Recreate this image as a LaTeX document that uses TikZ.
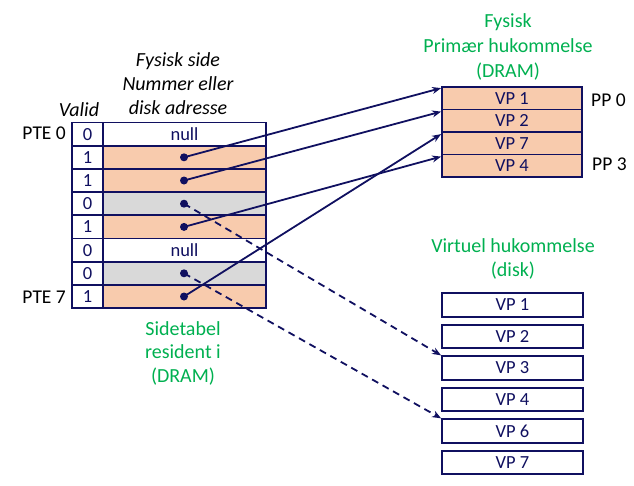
\documentclass[tikz,border=0pt]{standalone}
\usepackage{fontspec}
\setmainfont{Carlito}
\usetikzlibrary{arrows.meta}
\definecolor{navy}{RGB}{16,16,96}
\definecolor{pfill}{RGB}{248,203,173}
\definecolor{gfill}{RGB}{217,217,217}
\definecolor{lgreen}{RGB}{0,176,80}
\begin{document}
\begin{tikzpicture}[x=1pt,y=-1pt,
  cell/.style={draw=navy,line width=1.8pt,inner sep=0pt,text=navy,font=\fontsize{18.5}{19}\selectfont},
  vcell/.style={cell,minimum width=31pt,minimum height=23.2pt},
  acell/.style={cell,minimum width=163pt,minimum height=23.2pt},
  pmcell/.style={cell,minimum width=140pt,minimum height=22.5pt,fill=pfill},
  dcell/.style={cell,minimum width=141pt,minimum height=23.5pt,fill=white},
  lab/.style={inner sep=0pt,font=\fontsize{19.5}{22}\selectfont},
  hdr/.style={inner sep=0pt,font=\fontsize{20}{24}\selectfont\itshape,align=center},
  grn/.style={inner sep=0pt,text=lgreen,font=\fontsize{20}{24}\selectfont,align=center},
  dotn/.style={circle,fill=navy,inner sep=0pt,minimum size=8pt},
  arr/.style={draw=navy,line width=1.8pt,-{Stealth[length=9pt,width=7pt]}},
  darr/.style={arr,dash pattern=on 7pt off 5pt}
]
\useasboundingbox (0,0) rectangle (634,485);
% page table
\foreach \i/\v/\f in {0/0/white,1/1/pfill,2/1/pfill,3/0/gfill,4/1/pfill,5/0/white,6/0/gfill,7/1/pfill}{
  \node[vcell,fill=white] (v\i) at (87.5,{134.1+23.2*\i}) {\v};
  \node[acell,fill=\f] (a\i) at (184.5,{134.1+23.2*\i}) {};
}
\node[cell,draw=none,fill=none] at (a0) {null};
\node[cell,draw=none,fill=none] at (a5) {null};
\foreach \i in {1,2,3,4,6,7}{
  \node[dotn] (d\i) at (184,{134.1+23.2*\i}) {};
}
\node[lab,anchor=east] (pte0) at (66,133) {PTE 0};
\node[lab,anchor=east] (pte7) at (66,297) {PTE 7};
\node[hdr] (valid) at (79,110) {Valid};
\node[hdr] (hdr) at (178,84) {Fysisk side\\Nummer eller\\disk adresse};
\node[grn,font=\fontsize{20}{23.5}\selectfont] (st) at (183,353) {Sidetabel\\resident i\\(DRAM)};
% physical memory
\node[pmcell] (p1) at (512,98.25) {VP 1};
\node[pmcell] (p2) at (512,120.75) {VP 2};
\node[pmcell] (p7) at (512,143.25) {VP 7};
\node[pmcell] (p4) at (512,165.75) {VP 4};
\node[lab,anchor=west] (pp0) at (591,100) {PP 0};
\node[lab,anchor=west] (pp3) at (592,164) {PP 3};
\node[grn,font=\fontsize{20}{25}\selectfont] (fys) at (508,47) {Fysisk\\Primær hukommelse\\(DRAM)};
% disk
\node[grn] (vh) at (513,258.5) {Virtuel hukommelse\\(disk)};
\foreach \n/\y in {1/305,2/336.5,3/368,4/399.5,6/431,7/462.5}{
  \node[dcell] (dk\n) at (512.5,\y) {VP \n};
}
% arrows
\draw[arr] (d1.center) -- ([yshift=-2pt]p1.north west);
\draw[arr] (d2.center) -- ([yshift=-3pt]p2.north west);
\draw[arr] (d4.center) -- ([yshift=-3pt]p4.north west);
\draw[arr] (d7.center) -- ([yshift=-3pt]p7.north west);
\draw[darr] (d3.center) -- (dk3.north west);
\draw[darr] (d6.center) -- (dk6.north west);
\end{tikzpicture}
\end{document}
